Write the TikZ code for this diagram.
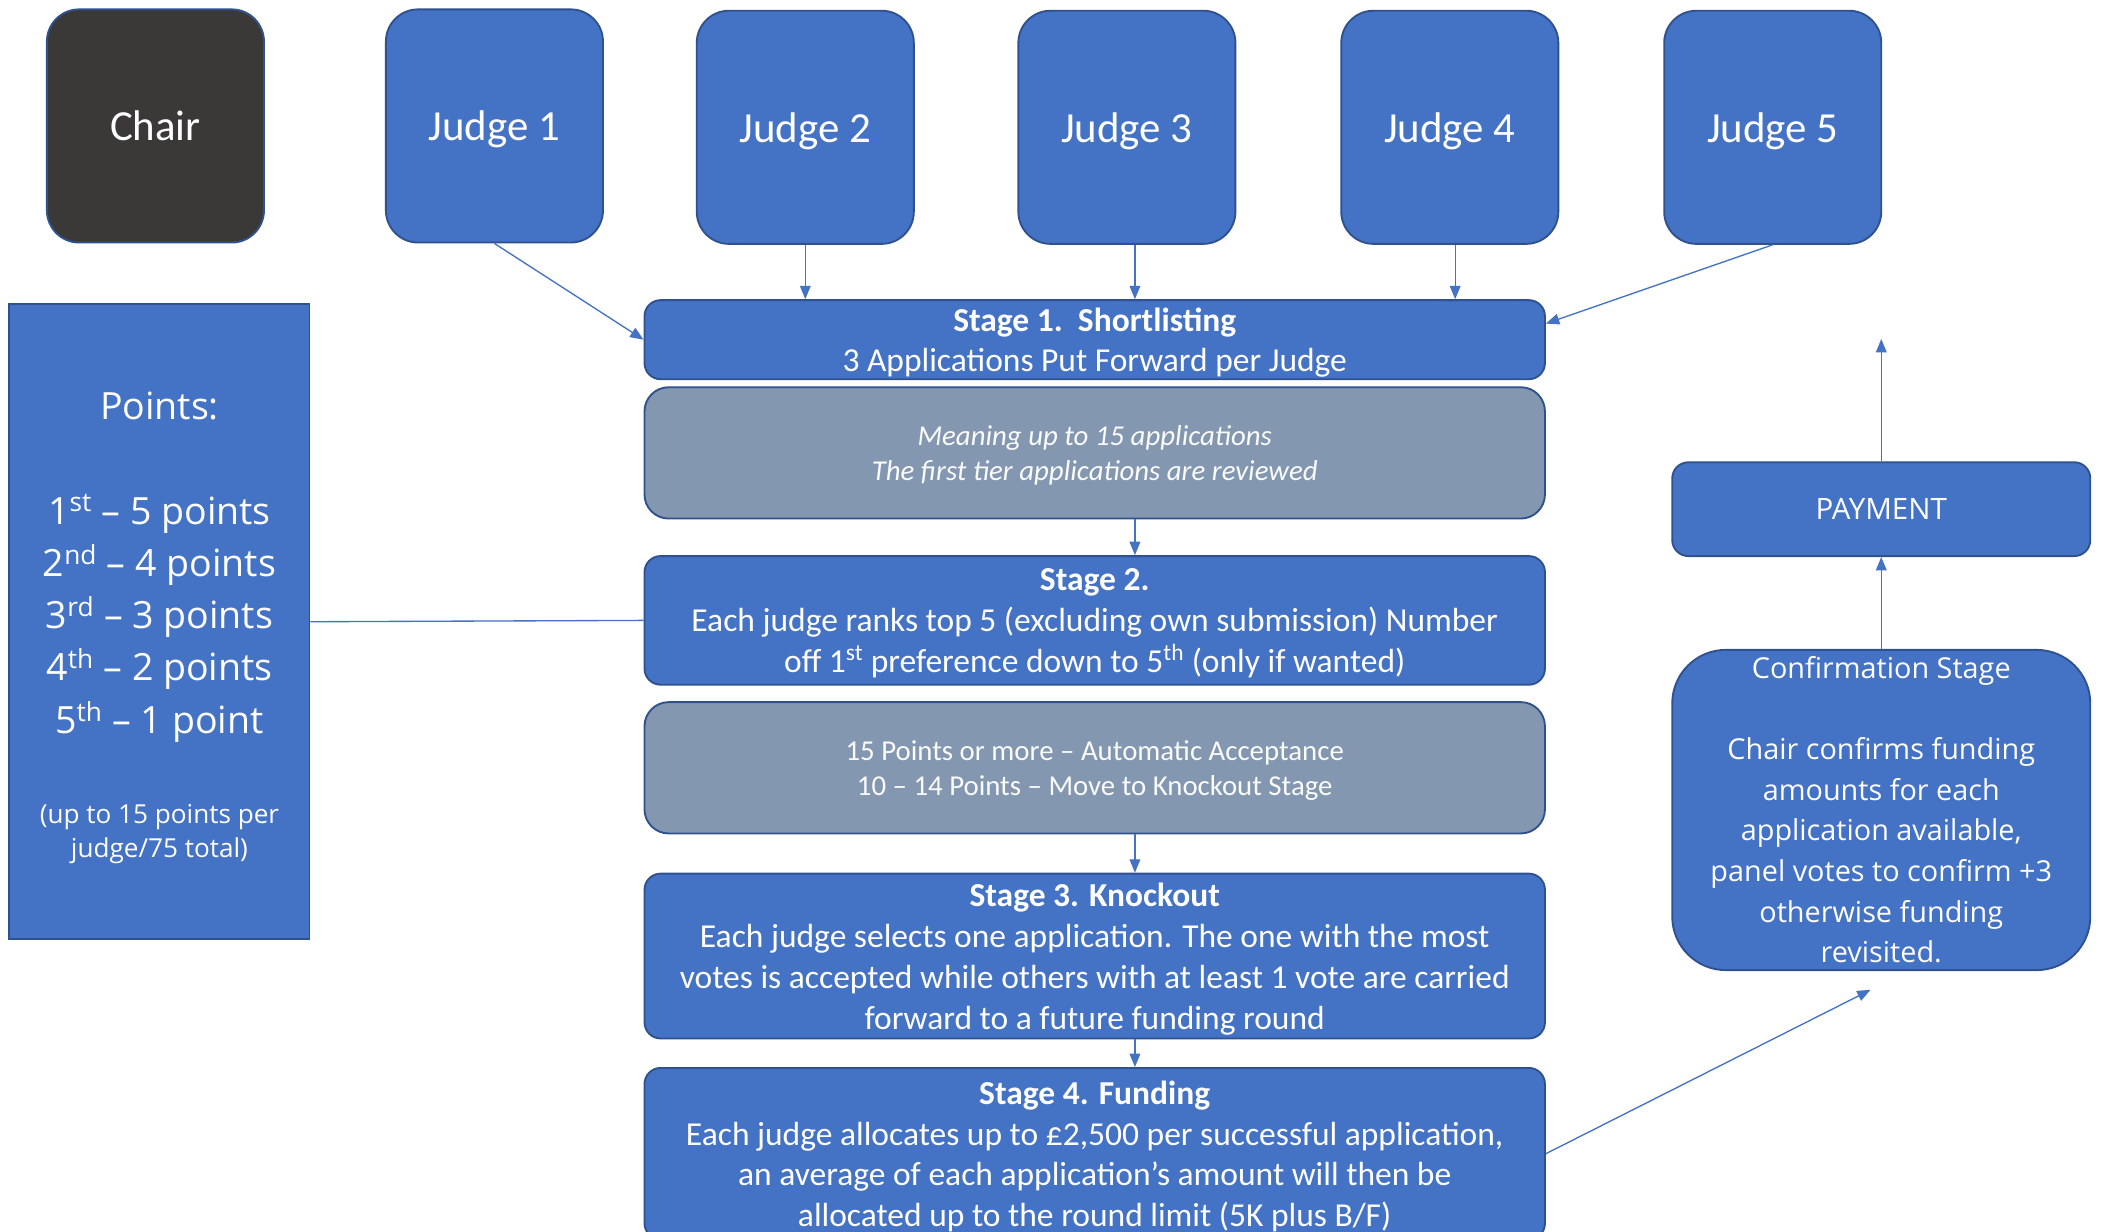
\documentclass[tikz,border=0pt]{standalone}
\usepackage{fontspec}
\setmainfont{Carlito}
\newfontfamily\segfont{Open Sans}
\usetikzlibrary{arrows.meta}
\definecolor{blu}{HTML}{4472C4}
\definecolor{bdr}{HTML}{2F528F}
\definecolor{gry}{HTML}{8497B0}
\definecolor{chr}{HTML}{3B3838}
\begin{document}
\begin{tikzpicture}[x=1pt,y=-1pt,
 box/.style={draw=bdr, line width=1.4pt, fill=blu, text=white, inner sep=0pt, align=center},
 judge/.style={box, rounded corners=24pt, minimum width=162pt, minimum height=174pt, text depth=0pt, font=\fontsize{32}{38}\selectfont},
 stagebox/.style={box, rounded corners=12pt, minimum width=672pt, text depth=0pt, font=\fontsize{25}{30.5}\selectfont},
 graybox/.style={box, fill=gry, rounded corners=18pt, minimum width=672pt, minimum height=98pt, text depth=0pt, text=white!96!gry, font=\fontsize{21.5}{26}\selectfont},
 ptxt/.style={text=white, inner sep=0pt, align=center},
 conn/.style={draw=blu, line width=1pt},
 arr/.style={conn, -{Triangle[length=10pt,width=8pt]}}
]
\useasboundingbox (0,0) rectangle (1568,919);
\clip (0,0) rectangle (1568,919);
\fill[white] (0,0) rectangle (1568,919);

\coordinate (cx) at (847,0);

% top row
\node[judge, fill=chr] (chair) at (116,94) {Chair};
\node[judge] (j1) at (369,94) {Judge 1};
\node[judge] (j2) at (601,95) {Judge 2};
\node[judge] (j3) at (841,95) {Judge 3};
\node[judge] (j4) at (1082,95) {Judge 4};
\node[judge] (j5) at (1323,95) {Judge 5};
\coordinate (j4x) at ([xshift=4pt]j4.south);

% central column
\node[stagebox, minimum height=59pt] (s1) at (817,253.5)
 {\textbf{Stage 1.\ \ Shortlisting}\\3 Applications Put Forward per Judge};
\node[graybox] (g1) at (817,338)
 {\itshape Meaning up to 15 applications\\\itshape The first tier applications are reviewed};
\node[stagebox, minimum height=96pt] (s2) at (817,463)
 {\textbf{Stage 2.}\\Each judge ranks top 5 (excluding own submission) Number\\off 1\textsuperscript{st} preference down to 5\textsuperscript{th} (only if wanted)};
\node[graybox] (g2) at (817,573)
 {15 Points or more – Automatic Acceptance\\10 – 14 Points – Move to Knockout Stage};
\node[stagebox, minimum height=123pt] (s3) at (817,713.5)
 {\textbf{Stage 3. Knockout}\\Each judge selects one application. The one with the most\\votes is accepted while others with at least 1 vote are carried\\forward to a future funding round};
\node[stagebox, minimum height=128pt] (s4) at (817,861)
 {\textbf{Stage 4. Funding}\\Each judge allocates up to £2,500 per successful application,\\an average of each application’s amount will then be\\allocated up to the round limit (5K plus B/F)};

% points box
\node[box, minimum width=224pt, minimum height=474pt] (pts) at (119,464) {};
\node[ptxt, font=\segfont\fontsize{28}{37}\selectfont] (ptitle) at (119,303) {Points:};
\node[ptxt, font=\segfont\fontsize{28}{39}\selectfont] (plist) at (119,461.5)
 {1\textsuperscript{st} – 5 points\\2\textsuperscript{nd} – 4 points\\3\textsuperscript{rd} – 3 points\\4\textsuperscript{th} – 2 points\\5\textsuperscript{th} – 1 point};
\node[ptxt, font=\segfont\fontsize{19.5}{25}\selectfont] (pnote) at (119,622.5)
 {(up to 15 points per\\judge/75 total)};

% right side
\node[box, rounded corners=12pt, minimum width=312pt, minimum height=70pt, font=\segfont\fontsize{22}{30}\selectfont] (pay) at (1404,380) {PAYMENT};
\node[box, rounded corners=40pt, minimum width=312pt, minimum height=239pt, font=\segfont\fontsize{21.5}{30.3}\selectfont] (conf) at (1404,604.5)
 {Confirmation Stage\\[30pt]Chair confirms funding\\amounts for each\\application available,\\panel votes to confirm +3\\otherwise funding\\revisited.};
\coordinate (payup) at (1404,253);

% connectors
\draw[arr] (j1.south) -- (s1.west);
\draw[arr] (j2.south) -- (s1.north -| j2.south);
\draw[arr] (j3.south -| cx) -- (s1.north -| cx);
\draw[arr] (j4x) -- (s1.north -| j4x);
\draw[arr] (j5.south) -- ([yshift=12pt]s1.east);
\draw[arr] (g1.south -| cx) -- (s2.north -| cx);
\draw[arr] (g2.south -| cx) -- (s3.north -| cx);
\draw[arr] (s3.south -| cx) -- (s4.north -| cx);
\draw[conn] (pts.east) -- (s2.west);
\draw[arr] (s4.east) -- ([xshift=-8pt,yshift=-14pt]conf.south);
\draw[arr] (conf.north) -- (pay.south);
\draw[arr] (pay.north) -- (payup);
\end{tikzpicture}
\end{document}
